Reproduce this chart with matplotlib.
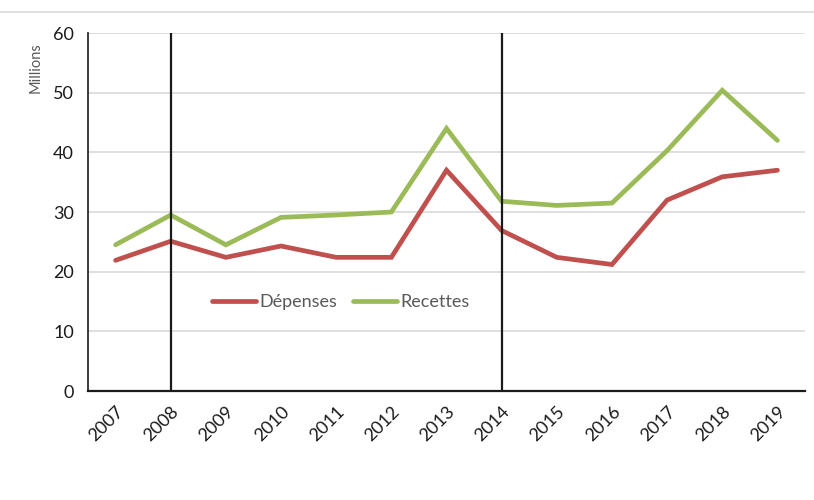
import matplotlib
matplotlib.use("Agg")
import matplotlib.pyplot as plt
from matplotlib.lines import Line2D

years = ["2007", "2008", "2009", "2010", "2011", "2012", "2013",
         "2014", "2015", "2016", "2017", "2018", "2019"]
depenses = [21.9, 25.1, 22.4, 24.3, 22.4, 22.4, 37.0, 26.9, 22.4, 21.2, 32.0, 35.9, 37.0]
recettes = [24.5, 29.5, 24.5, 29.1, 29.5, 30.0, 44.0, 31.8, 31.1, 31.5, 40.3, 50.4, 42.0]
markers_years = ["2008", "2014"]
yticks = [0, 10, 20, 30, 40, 50, 60]

plt.rcParams["font.family"] = ["Lato", "DejaVu Sans"]

fig = plt.figure(figsize=(8.14, 5), dpi=100)
ax = fig.add_axes([88 / 814, 1 - 391 / 500, 717 / 814, 358 / 500])

x = list(range(len(years)))
ax.plot(x, depenses, color="#C0504D", lw=3.4, solid_capstyle="round", solid_joinstyle="miter", label="Dépenses", zorder=3)
ax.plot(x, recettes, color="#9BBB59", lw=3.4, solid_capstyle="round", solid_joinstyle="miter", label="Recettes", zorder=3)

for yr in markers_years:
    ax.axvline(years.index(yr), color="#1a1a1a", lw=1.6, zorder=4)

ax.set_xlim(-0.5, len(years) - 0.5)
ax.set_ylim(0, 60)
ax.set_yticks(yticks)
ax.set_yticklabels([str(v) for v in yticks], fontsize=13, color="#1a1a1a")
ax.set_xticks(x)
ax.set_xticklabels(years, rotation=45, ha="right", rotation_mode="anchor", fontsize=13, color="#1a1a1a")
ax.tick_params(axis="both", length=0)
ax.tick_params(axis="y", pad=10)
ax.tick_params(axis="x", pad=9)

ax.grid(axis="y", color="#D9D9D9", lw=1.2)
ax.set_axisbelow(True)
for s in ["top", "right"]:
    ax.spines[s].set_visible(False)
ax.spines["left"].set_color("#1a1a1a")
ax.spines["left"].set_linewidth(1.2)
ax.spines["bottom"].set_color("#1a1a1a")
ax.spines["bottom"].set_linewidth(1.6)

leg = ax.legend(loc="center", bbox_to_anchor=((341 - 88) / 717, (391 - 302) / 358),
                bbox_transform=ax.transAxes, ncol=2, frameon=False, fontsize=13,
                handlelength=2.4, handletextpad=0.2, columnspacing=0.9)
for t in leg.get_texts():
    t.set_color("#595959")

fig.text(36 / 814, 1 - 68 / 500, "Millions", rotation=90, ha="center", va="center",
         fontsize=10.5, color="#595959")
fig.add_artist(Line2D([0, 1], [1 - 12 / 500, 1 - 12 / 500], color="#D9D9D9", lw=1.2))

fig.savefig("out.png", dpi=100)
